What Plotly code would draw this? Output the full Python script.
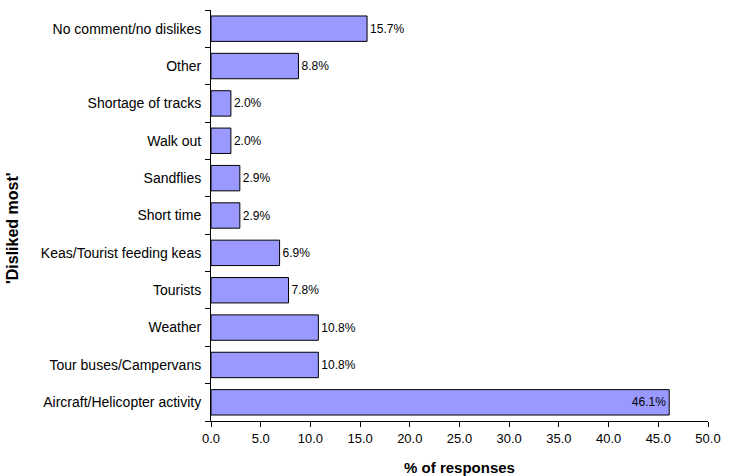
import plotly.graph_objects as go

categories = [
    "Aircraft/Helicopter activity",
    "Tour buses/Campervans",
    "Weather",
    "Tourists",
    "Keas/Tourist feeding keas",
    "Short time",
    "Sandflies",
    "Walk out",
    "Shortage of tracks",
    "Other",
    "No comment/no dislikes",
]
values = [46.1, 10.8, 10.8, 7.8, 6.9, 2.9, 2.9, 2.0, 2.0, 8.8, 15.7]
x_ticks = [0, 5, 10, 15, 20, 25, 30, 35, 40, 45, 50]

positions = ["inside" if v > 40 else "outside" for v in values]

fig = go.Figure(go.Bar(
    x=values,
    y=categories,
    orientation="h",
    marker=dict(color="#9999FF", line=dict(color="#000000", width=1)),
    text=[f"{v:.1f}%" for v in values],
    textposition=positions,
    insidetextanchor="end",
    textfont=dict(family="Liberation Sans, Arial", size=12, color="#000000"),
    cliponaxis=False,
))

fig.update_layout(
    width=734, height=476,
    margin=dict(l=211, r=26, t=10, b=55, autoexpand=False),
    paper_bgcolor="white", plot_bgcolor="white",
    bargap=0.32,
    showlegend=False,
    font=dict(family="Liberation Sans, Arial", color="#000000"),
    uniformtext=dict(minsize=12, mode="show"),
    xaxis=dict(
        range=[0, 50], tickvals=x_ticks, ticktext=[f"{t:.1f}" for t in x_ticks],
        showline=True, linecolor="#000000", linewidth=1,
        ticks="outside", ticklen=5, tickcolor="#000000",
        showgrid=False, zeroline=False,
        tickfont=dict(size=13),
        automargin=False,
        title=dict(text="<b>% of responses</b>", font=dict(size=15), standoff=21),
    ),
    yaxis=dict(
        showline=True, linecolor="#000000", linewidth=1,
        ticks="outside", ticklen=5, tickcolor="#000000", tickson="boundaries",
        ticklabelstandoff=6,
        showgrid=False,
        tickfont=dict(size=14),
        automargin=False,
    ),
    annotations=[dict(
        text="<b>'Disliked most'</b>", textangle=-90,
        xref="paper", yref="paper", x=-0.398, y=0.47,
        xanchor="center", yanchor="middle", showarrow=False,
        font=dict(size=16, family="Liberation Sans, Arial", color="#000000"),
    )],
)

fig.write_html("out.html", config={"displayModeBar": False},
               post_script="document.body.style.margin='0';")
